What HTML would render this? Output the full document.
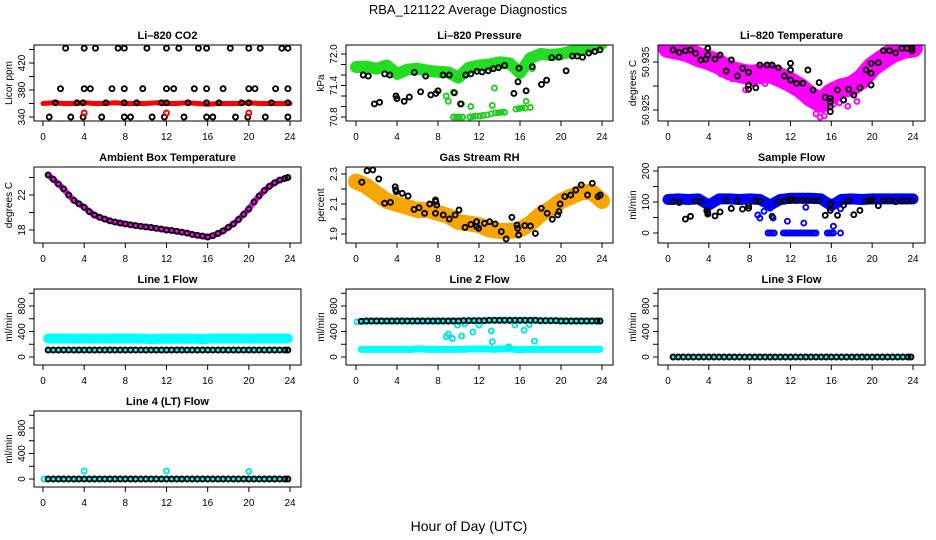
<!DOCTYPE html>
<html><head><meta charset="utf-8"><title>RBA_121122 Average Diagnostics</title>
<style>
html,body{margin:0;padding:0;background:#fff;}
svg{display:block;font-family:"Liberation Sans",Arial,sans-serif;}
</style></head>
<body>
<svg id="chart" width="936" height="540" viewBox="0 0 936 540">
<rect x="0" y="0" width="936" height="540" fill="#fff"/>
<text x="468" y="14" text-anchor="middle" font-size="13">RBA_121122  Average Diagnostics</text>
<text x="469" y="531" text-anchor="middle" font-size="14">Hour of Day (UTC)</text>
</svg>
<script>
// ---------- data ----------
const hours = [0,1,2,3,4,5,6,7,8,9,10,11,12,13,14,15,16,17,18,19,20,21,22,23,24];
const halfHours = [0.5,1,1.5,2,2.5,3,3.5,4,4.5,5,5.5,6,6.5,7,7.5,8,8.5,9,9.5,10,10.5,11,11.5,12,12.5,13,13.5,14,14.5,15,15.5,16,16.5,17,17.5,18,18.5,19,19.5,20,20.5,21,21.5,22,22.5,23,23.5,23.8];

// CO2
const co2RedBand = [360,361,360,360,361,360,360,361,360,360,360,361,360,360,361,360,359,360,360,360,361,360,360,360,360];
const co2RedX = [4,12,20];
const co2RedY = [346,346,346];
const co2BlackX = [2.2,4,5.1,7.3,7.9,10.1,12,13.2,15.1,15.9,18.2,20,21.1,23.2,23.8,
  1.7,4,4.6,6.7,7.9,9.7,12,12.7,14.7,15.9,17.5,20,20.6,22.6,23.8,
  1.2,3.3,3.9,6.1,7.9,9.1,11.5,12,14.1,15.9,17.1,19.3,20,22.2,23.8,
  0.6,2.7,3.9,5.7,7.9,8.5,10.6,11.8,13.7,15.9,16.5,18.7,19.9,21.6,23.8];
const co2BlackY = [442,442,442,442,442,442,442,442,442,442,442,442,442,442,442,
  382,382,382,382,382,382,382,382,382,382,382,382,382,382,382,
  361,361,361,361,361,361,361,361,361,361,361,361,361,361,361,
  340,340,340,340,340,340,340,340,340,340,340,340,340,340,340];

// Pressure
const presBand = [71.75,71.76,71.72,71.78,71.62,71.7,71.72,71.68,71.66,71.65,71.55,71.74,71.78,71.8,71.84,71.82,71.64,71.92,72.0,71.98,72.0,72.05,72.08,72.15,72.2];
const presGreenX = [9.5,9.8,10.1,10.4,11.1,11.4,11.7,12.1,12.4,12.8,13.2,13.6,13.9,14.2,14.5,15.6,15.9,16.2,16.5,17.0,8.8,9.0,10.3,11.2,13.3,13.5,16.6,17.2,9.5,10.0];
const presGreenY = [70.8,70.8,70.8,70.8,70.8,70.81,70.82,70.82,70.83,70.84,70.86,70.88,70.88,70.89,70.89,70.95,70.96,70.97,70.97,70.98,71.2,71.1,71.05,71.0,71.02,71.35,71.1,71.72,71.27,71.55];
const presBlackX = [0.7,1.2,1.8,2.3,2.8,3.3,3.9,4,4.7,5.2,5.7,6.3,6.8,7.3,7.8,8,8.5,9.1,9.6,10.2,10.7,11.2,11.8,12.3,12.9,13.4,13.9,14.5,15.4,15.8,15.9,16.6,17.2,18.1,18.6,19.1,19.8,20.5,21.1,21.6,22.1,22.7,23.3,23.8];
const presBlackY = [71.6,71.58,71.05,71.08,71.62,71.6,71.2,71.15,71.1,71.18,71.65,71.28,71.58,71.22,71.25,71.3,71.6,71.6,71.26,71.05,71.6,71.62,71.67,71.66,71.68,71.72,71.74,71.78,71.25,71.47,71.73,71.3,71.76,71.42,71.5,71.93,71.94,71.68,71.96,71.96,71.94,72.02,72.05,72.08];

// Li-820 temperature
const tempBand = [50.9379,50.9375,50.937,50.936,50.9354,50.9345,50.9333,50.9327,50.9323,50.9325,50.9327,50.9318,50.9308,50.9295,50.9277,50.9265,50.9285,50.9295,50.9300,50.9315,50.934,50.9355,50.9369,50.9377,50.938];
const tempPinkX = [7.6,8.4,14.5,14.9,15.3,16.2,17.6,18.5,9.5,11.3,13.0,16.8,5.2,6.3,1.0,21.5,22.6];
const tempPinkY = [50.9292,50.9305,50.9242,50.9235,50.9238,50.9262,50.9258,50.9268,50.9305,50.9305,50.9288,50.9265,50.9325,50.9315,50.9368,50.9352,50.9365];
const tempBlackX = [0.5,1.1,1.7,2.2,2.7,3.2,3.7,3.9,3.9,4.6,5.1,5.7,6.2,6.8,7.3,7.9,7.9,7.9,8.6,9.0,9.7,10.2,10.8,11.4,12,12,12,12.6,13.2,13.7,14.2,14.8,15.4,15.9,15.9,15.9,15.9,16.6,17.2,17.7,18.2,18.8,19.4,19.9,19.9,19.9,20.6,21.1,21.7,22.3,22.9,23.4,23.9,23.9];
const tempBlackY = [50.9375,50.9370,50.93735,50.9375,50.9368,50.93542,50.93556,50.93785,50.93646,50.9356,50.93646,50.93313,50.93542,50.93208,50.93368,50.93285,50.93021,50.92931,50.92965,50.93438,50.93438,50.93438,50.9338,50.93208,50.93472,50.93333,50.93125,50.93056,50.93056,50.93333,50.92917,50.9307,50.92764,50.92743,50.92674,50.9257,50.92465,50.92917,50.92708,50.92931,50.92813,50.92965,50.93333,50.93472,50.93264,50.93021,50.93486,50.93735,50.93735,50.9369,50.93785,50.93785,50.93785,50.93735];

// Ambient box temperature (half-hourly)
const ambientTemp = [24.3,23.8,23.25,22.7,22.0,21.4,21.0,20.6,20.1,19.7,19.45,19.25,19.05,18.9,18.8,18.7,18.6,18.5,18.42,18.35,18.28,18.2,18.1,18.0,17.95,17.85,17.75,17.65,17.5,17.4,17.3,17.2,17.35,17.6,17.9,18.3,18.7,19.2,19.8,20.4,21.2,21.9,22.5,23.0,23.4,23.7,23.9,24.0];

// Gas stream RH
const rhBand = [2.25,2.22,2.17,2.12,2.10,2.08,2.06,2.06,2.04,2.02,1.98,1.97,1.96,1.93,1.92,1.92,1.93,1.97,2.03,2.07,2.12,2.15,2.18,2.18,2.12];
const rhBlackX = [0.57,1.07,1.64,2.22,2.79,3.36,3.82,3.87,3.94,4.51,5.08,5.66,6.15,6.69,7.19,7.76,7.8,7.76,7.87,8.52,9.1,9.67,10.05,10.63,11.2,11.77,11.77,11.96,12.54,13.03,13.57,14.18,14.64,15.21,15.71,15.78,15.86,16.47,17.01,17.5,18.08,18.65,19.15,19.68,19.8,19.91,20.37,20.95,21.44,21.98,22.59,23.05,23.62,23.82];
const rhBlackY = [2.245,2.322,2.327,2.267,2.105,2.111,2.215,2.193,2.182,2.171,2.153,2.064,2.075,2.038,2.1,2.127,2.116,2.038,2.093,2.027,2.0,2.027,2.06,1.944,1.964,1.982,1.949,1.938,1.971,1.982,1.967,1.916,1.867,2.011,1.96,1.938,1.893,1.956,1.953,1.904,2.071,2.038,1.998,2.027,2.049,2.1,2.149,2.16,2.193,2.227,2.16,2.238,2.149,2.16];

// Sample flow
const flowBand = [108,110,108,110,90,110,110,108,110,108,90,108,112,112,112,110,88,108,110,108,110,110,110,110,110];
const flowBlueX = [9.8,10,10.2,10.4,11.3,11.5,11.7,11.9,12.1,12.3,12.5,12.7,12.9,13.1,13.3,13.5,13.7,13.9,14.1,14.3,14.5,15.6,15.8,16,16.2,16.9,8.8,9,9.4,10,10.3,11.7,13.3,13.5,16.2,16.9,15.9];
const flowBlueY = [0,0,0,0,0,0,0,0,0,0,0,0,0,0,0,0,0,0,0,0,0,0,0,0,0,0,58,48,70,80,48,38,32,83,22,78,100];
const flowBlackX = [0.5,1.1,1.7,2.2,2.7,3.2,3.8,3.9,3.9,4.6,5.1,5.7,6.2,6.8,7.3,7.9,7.9,8.6,9.0,10.2,10.8,11.4,12,12,12.6,13.2,13.7,14.2,14.8,15.4,15.9,15.9,16.6,17.2,17.7,18.2,18.8,19.4,19.9,20,20.6,21.1,21.7,22.3,22.9,23.4,23.9];
const flowBlackY = [101,98,45,54,103,101,72,61,66,55,68,105,79,103,77,88,80,103,103,54,103,103,105,110,105,105,105,105,105,57,94,73,57,90,105,59,73,103,103,108,88,105,105,101,103,103,105];

// Line flows (half-hourly)
const line1Cyan = [290,290,290,290,290,285,290,290,285,290,290,285,290,290,290,290,290,290,285,285,280,285,285,285,285,290,285,285,285,285,280,285,290,290,290,290,290,290,290,285,290,290,290,290,290,290,290,290];
const line1Black = [110,110,110,110,110,110,110,110,110,110,110,110,110,110,110,110,110,110,110,110,110,110,110,110,110,110,110,110,110,110,110,110,110,110,110,110,110,110,110,110,110,110,110,110,110,110,110,110];
const line2High = [560,565,565,565,565,565,565,565,565,565,565,565,565,565,565,565,565,565,565,565,570,570,570,570,570,575,575,575,575,575,575,575,575,575,575,570,570,570,570,565,565,565,565,565,565,565,565,565];
const line2Low = [120,120,120,120,120,120,120,120,120,120,120,130,125,120,120,120,120,120,120,120,120,125,125,125,125,125,120,125,125,130,120,115,120,120,120,120,120,120,120,120,120,120,120,120,120,120,120,120];
const line2CyanX = [8.8,9.0,9.4,10.3,11.4,13.2,13.3,14.9,16.4,17.4,9.9,10.6,12.0,15.5,16.9,0.1];
const line2CyanY = [320,360,290,330,390,410,240,160,420,250,500,520,500,500,510,550];
const line3Black = [0,0,0,0,0,0,0,0,0,0,0,0,0,0,0,0,0,0,0,0,0,0,0,0,0,0,0,0,0,0,0,0,0,0,0,0,0,0,0,0,0,0,0,0,0,0,0,0];
const line4Black = [0,0,0,0,0,0,0,0,0,0,0,0,0,0,0,0,0,0,0,0,0,0,0,0,0,0,0,0,0,0,0,0,0,0,0,0,0,0,0,0,0,0,0,0,0,0,0,0];
const line4CyanX = [4,12,20,0.1];
const line4CyanY = [125,125,120,0];

// axis ticks
const xTicks = [0,4,8,12,16,20,24];
const co2Ticks = [340,360,380,400,420,440];
const co2Labels = ['340','','380','','420',''];
const presTicks = [70.8,71.0,71.2,71.4,71.6,71.8,72.0];
const presLabels = ['70.8','','','71.4','','','72.0'];
const tempTicks = [50.925,50.930,50.935];
const tempLabels = ['50.925','','50.935'];
const ambTicks = [18,20,22,24];
const ambLabels = ['18','','22',''];
const rhTicks = [1.9,2.0,2.1,2.2,2.3];
const rhLabels = ['1.9','','2.1','','2.3'];
const sfTicks = [0,50,100,150,200];
const sfLabels = ['0','','100','','200'];
const lfTicks = [0,200,400,600,800,1000];
const lfLabels = ['0','','400','','800',''];

// ---------- drawing ----------
const NS = 'http://www.w3.org/2000/svg';
const svg = document.getElementById('chart');
function mk(parent, tag, attrs, txt){
  const e = document.createElementNS(NS, tag);
  for (const k in attrs) e.setAttribute(k, attrs[k]);
  if (txt !== undefined) e.textContent = txt;
  parent.appendChild(e);
  return e;
}
let clipN = 0;
function panel(key, title, box, xr, yref, yt, yl, ylab){
  const [L,T,R,B] = box;
  const g = mk(svg,'g',{});
  
  
  const sx = h => xr[0] + h*(xr[1]-xr[0])/24;
  const sy = v => yref[1] + (v-yref[0])*(yref[3]-yref[1])/(yref[2]-yref[0]);
  const t = mk(g,'text',{x:(L+R)/2, y:T-6, 'text-anchor':'middle','font-size':11,'font-weight':'bold'}, title);
  
  
  const xa = mk(g,'g',{});
  
  
  mk(xa,'line',{x1:sx(xTicks[0]),y1:B,x2:sx(xTicks[xTicks.length-1]),y2:B,stroke:'#000'});
  xTicks.forEach(h=>{
    mk(xa,'line',{x1:sx(h),y1:B,x2:sx(h),y2:B+5,stroke:'#000'});
    const lb = mk(xa,'text',{x:sx(h),y:B+19,'text-anchor':'middle','font-size':10}, String(h));
    
    
  });
  const ya = mk(g,'g',{});
  
  
  yt.forEach((v,i)=>{
    const y = sy(v);
    mk(ya,'line',{x1:L-5,y1:y,x2:L,y2:y,stroke:'#000'});
    if (yl[i]) {
      const lb = mk(ya,'text',{x:L-9,y:y,'text-anchor':'middle','font-size':10,transform:`rotate(-90 ${L-9} ${y})`}, yl[i]);
      
      
    }
  });
  const ytl = mk(g,'text',{x:L-22,y:(T+B)/2,'text-anchor':'middle','font-size':10,transform:`rotate(-90 ${L-22} ${(T+B)/2})`}, ylab);
  
  
  clipN++;
  const cp = mk(g,'clipPath',{id:'cp'+clipN});
  mk(cp,'rect',{x:L,y:T,width:R-L,height:B-T});
  const plot = mk(g,'g',{'clip-path':`url(#cp${clipN})`});
  
  
  const frame = mk(g,'rect',{x:L,y:T,width:R-L,height:B-T,fill:'none',stroke:'#000'});
  
  
  g.appendChild(frame);
  return {sx, sy, plot};
}
function band(p, name, xs, ys, color, w){
  const pts = xs.map((h,i)=>p.sx(h).toFixed(1)+','+p.sy(ys[i]).toFixed(1)).join(' ');
  const pl = mk(p.plot,'polyline',{points:pts,fill:'none',stroke:color,'stroke-width':w,'stroke-linejoin':'round','stroke-linecap':'round'});
  
  
}
function pts(p, name, xs, ys, color, r, sw){
  const g = mk(p.plot,'g',{});
  
  
  xs.forEach((h,i)=>{
    const c = mk(g,'circle',{cx:p.sx(h).toFixed(1),cy:p.sy(ys[i]).toFixed(1),r:r||2.5,fill:'none',stroke:color,'stroke-width':sw||1.9});
    
    
  });
}
const C1=[34,301,43,290], C2=[346,613,356,602], C3=[658,925,668,913];
const R1=[45,121], R2=[167,243], R3=[289,365], R4=[411,487];
function bx(c,r){return [c[0],r[0],c[1],r[1]];}
function xr(c){return [c[2],c[3]];}

// CO2
let p = panel('co2','Li\u2013820 CO2',bx(C1,R1),xr(C1),[340,117,420,63],co2Ticks,co2Labels,'Licor ppm');
band(p,'co2-red-band',hours,co2RedBand,'#ff0000',5);
pts(p,'co2-black-points',co2BlackX,co2BlackY,'#000');
pts(p,'co2-red-points',co2RedX,co2RedY,'#ff0000');

// Pressure
p = panel('pressure','Li\u2013820 Pressure',bx(C2,R1),xr(C2),[72.0,54,70.8,117],presTicks,presLabels,'kPa');
band(p,'pressure-green-band',hours,presBand,'#22dd22',12);
pts(p,'pressure-green-points',presGreenX,presGreenY,'#22cc22');
pts(p,'pressure-black-points',presBlackX,presBlackY,'#000');

// Temperature
p = panel('li820-temp','Li\u2013820 Temperature',bx(C3,R1),xr(C3),[50.935,62,50.925,110],tempTicks,tempLabels,'degrees C');
band(p,'temp-magenta-band',hours,tempBand,'#ff00ff',20);
pts(p,'temp-magenta-points',tempPinkX,tempPinkY,'#ff00ff');
pts(p,'temp-black-points',tempBlackX,tempBlackY,'#000');

// Ambient
p = panel('ambient','Ambient Box Temperature',bx(C1,R2),xr(C1),[22,195,18,230],ambTicks,ambLabels,'degrees C');
band(p,'ambient-magenta-line',halfHours,ambientTemp,'#ff00ff',6);
pts(p,'ambient-black-points',halfHours,ambientTemp,'#000');

// RH
p = panel('rh','Gas Stream RH',bx(C2,R2),xr(C2),[2.3,174,1.9,234],rhTicks,rhLabels,'percent');
band(p,'rh-orange-band',hours,rhBand,'#f7a600',16);
pts(p,'rh-black-points',rhBlackX,rhBlackY,'#000');

// Sample flow
p = panel('sample-flow','Sample Flow',bx(C3,R2),xr(C3),[200,171,0,233],sfTicks,sfLabels,'ml/min');
band(p,'sample-flow-blue-band',hours,flowBand,'#0000ff',11);
pts(p,'sample-flow-blue-points',flowBlueX,flowBlueY,'#0000ff');
pts(p,'sample-flow-black-points',flowBlackX,flowBlackY,'#000');

// Line 1
p = panel('line1','Line 1 Flow',bx(C1,R3),xr(C1),[800,306,0,357],lfTicks,lfLabels,'ml/min');
band(p,'line1-cyan-band',halfHours,line1Cyan,'#00ffff',10);
band(p,'line1-cyan-low-band',halfHours,line1Black,'#00ffff',6);
pts(p,'line1-black-points',halfHours,line1Black,'#000');

// Line 2
p = panel('line2','Line 2 Flow',bx(C2,R3),xr(C2),[800,306,0,357],lfTicks,lfLabels,'ml/min');
band(p,'line2-cyan-high-band',halfHours,line2High,'#00ffff',7);
band(p,'line2-cyan-low-band',halfHours,line2Low,'#00ffff',7);
pts(p,'line2-cyan-points',line2CyanX,line2CyanY,'#00e5e5');
pts(p,'line2-black-points',halfHours,line2High,'#000');

// Line 3
p = panel('line3','Line 3 Flow',bx(C3,R3),xr(C3),[800,306,0,357],lfTicks,lfLabels,'ml/min');
band(p,'line3-cyan-band',halfHours,line3Black,'#00ffff',5);
pts(p,'line3-black-points',halfHours,line3Black,'#000');

// Line 4
p = panel('line4','Line 4 (LT) Flow',bx(C1,R4),xr(C1),[800,428,0,479],lfTicks,lfLabels,'ml/min');
band(p,'line4-cyan-band',halfHours,line4Black,'#00ffff',5);
pts(p,'line4-cyan-points',line4CyanX,line4CyanY,'#00e5e5');
pts(p,'line4-black-points',halfHours,line4Black,'#000');
</script>
</body></html>
